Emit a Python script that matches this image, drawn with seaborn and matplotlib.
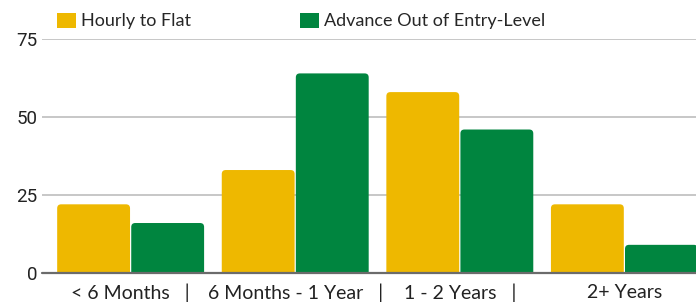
import pandas as pd
import seaborn as sns
import matplotlib.pyplot as plt
from matplotlib.patches import FancyBboxPatch, Patch

# Chart data
categories = ['< 6 Months   |', '6 Months - 1 Year   |', '1 - 2 Years   |', '2+ Years']
series_names = ['Hourly to Flat', 'Advance Out of Entry-Level']
hourly_to_flat = [22, 33, 58, 22]
advance_entry = [16, 64, 46, 9]
y_ticks = [0, 25, 50, 75]

colors = {'Hourly to Flat': '#EEB800', 'Advance Out of Entry-Level': '#00853F'}

# Long form table for seaborn
df = pd.DataFrame({
    'Category': categories * 2,
    'Series': [series_names[0]] * len(categories) + [series_names[1]] * len(categories),
    'Value': hourly_to_flat + advance_entry,
})

sns.set_theme(style='white')
plt.rcParams['font.family'] = ['Lato', 'DejaVu Sans']

fig = plt.figure(figsize=(6.96, 3.08), dpi=100)
ax = fig.add_axes([0.06, 0.114, 0.94, 0.759])

sns.barplot(data=df, x='Category', y='Value', hue='Series', order=categories,
            hue_order=series_names, palette=colors, width=0.9, gap=0,
            errorbar=None, ax=ax, legend=False, saturation=1)

ax.set_xlim(-0.54, 3.435)
ax.set_ylim(0, 75)

# Swap plain rectangles for rounded ones (top corners show, bottom is clipped)
x_per_px = (3.435 + 0.54) / (0.94 * 696)
y_per_px = 75 / (0.759 * 308)
old = list(ax.patches)
for p in old:
    x, w, h = p.get_x(), p.get_width(), p.get_height()
    if h <= 0:
        continue
    inset = x_per_px * 0.6
    r = FancyBboxPatch((x + inset, -3), w - 2 * inset, h + 3,
                       boxstyle=f'round,pad=0,rounding_size={x_per_px * 4}',
                       mutation_aspect=y_per_px / x_per_px,
                       facecolor=p.get_facecolor(), edgecolor='none', zorder=2)
    r.set_clip_on(True)
    ax.add_patch(r)
    p.remove()

ax.set_yticks(y_ticks)
ax.yaxis.grid(True, color='#BDBDBD', linewidth=1.2, zorder=0)
ax.set_axisbelow(True)
ax.axhline(0, color='#6B6B6B', linewidth=1.6, zorder=3, clip_on=False)

for s in ax.spines.values():
    s.set_visible(False)

ax.set_xlabel('')
ax.set_ylabel('')
ax.tick_params(axis='x', length=0, pad=8, labelsize=14, labelcolor='#222222')
ax.tick_params(axis='y', length=0, pad=3, labelsize=13.5, labelcolor='#222222')
for lbl in ax.get_yticklabels():
    lbl.set_fontfamily(['Roboto', 'DejaVu Sans'])

handles = [Patch(facecolor=colors[n], edgecolor='none') for n in series_names]
fig.legend(handles, series_names, loc='lower left', bbox_to_anchor=(0.082, 0.905),
           ncol=2, frameon=False, fontsize=13, handlelength=1.05, handleheight=0.9,
           handletextpad=0.3, columnspacing=6.0, borderaxespad=0, borderpad=0)

fig.savefig('out.png', dpi=100)
plt.close(fig)
